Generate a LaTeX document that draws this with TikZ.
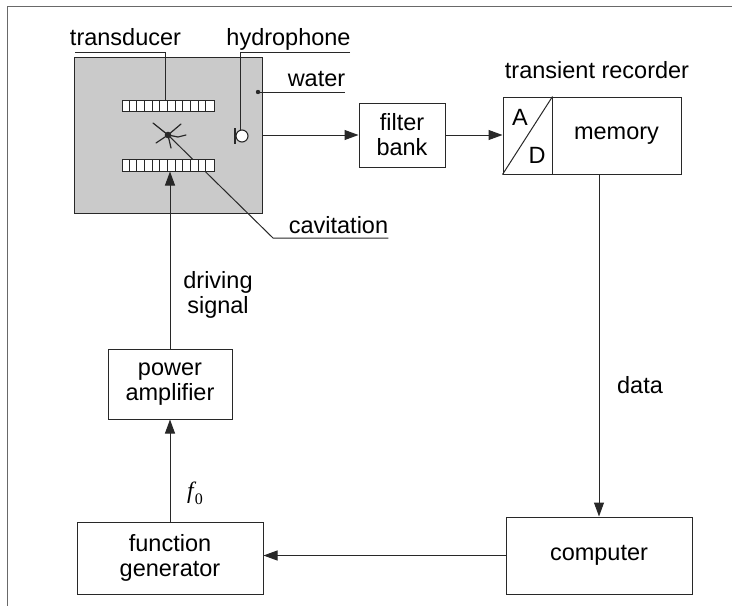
\documentclass[tikz,border=0pt]{standalone}
\usepackage{fontspec}
\setmainfont{Liberation Sans}
\newfontfamily\mathserif{Liberation Serif}
\usetikzlibrary{arrows.meta,calc}
\definecolor{tankgray}{RGB}{202,202,202}
\definecolor{ink}{RGB}{40,40,40}
\tikzset{
  box/.style={draw=ink, line width=1pt, fill=white, align=center, inner sep=0pt},
  lbl/.style={inner sep=0pt, align=center},
  wire/.style={draw=ink, line width=1pt},
  arr/.style={wire, -{Triangle[length=14pt, width=10pt]}},
}
\begin{document}
\begin{tikzpicture}[x=1pt, y=-1pt, font=\fontsize{23.5}{25}\selectfont]
\useasboundingbox (0,0) rectangle (732,606);
% outer frame (top and left edges)
\draw[ink!70, line width=1pt] (732,6) -- (7,6) -- (7,606);

% water tank with the two transducer plates
\node[box, fill=tankgray, minimum width=188pt, minimum height=156pt] (tank) at (168,135) {};
\node[lbl] (txlabel) at (125.5,45) [anchor=base] {transducer};
\node[lbl] (hylabel) at (288.5,45) [anchor=base] {hydrophone};
\node[lbl] (walabel) at (316.5,86) [anchor=base] {water};
\node[lbl] (cvlabel) at (338.5,233) [anchor=base] {cavitation};

% cavitation bubble and its pointer (drawn under the plates)
\coordinate (bubble) at (168,135);
\coordinate (cvknee) at (273,238);
\draw[wire] (bubble) -- (cvknee) -- (cvlabel.base east |- cvknee);

\node[box, minimum width=92pt, minimum height=11pt] (topx) at (168,105.5) {};
\node[box, minimum width=92pt, minimum height=12pt] (botx) at (168,165) {};
\foreach \i in {1,...,11}{
  \draw[ink, line width=0.8pt] ($(topx.west)+(\i*92/12,-5.5)$) -- ++(0,11);
  \draw[ink, line width=0.8pt] ($(botx.west)+(\i*92/12,-6)$) -- ++(0,12);
}

% bubble
\fill[ink] (bubble) circle (3.3pt);
\draw[ink, line width=1.2pt, line cap=round] (bubble) -- (153,123)
  (bubble) -- (181,124)
  (bubble) -- (156,143)
  (bubble) -- (171,148)
  (bubble) -- (178,137) -- (186,135);

% transducer pointer
\draw[wire] (75,52) -- (165,52) -- (165,100);

% hydrophone
\coordinate (hyd) at (242,136);
\draw[wire] (350,52) -- (240,52) -- (240,130);
\draw[ink, line width=1.1pt, fill=white] (hyd) circle (6pt);
\draw[ink, line width=1.2pt] (235,128) -- (235,144);

% water pointer
\coordinate (wdot) at (258,92);
\fill[ink] (wdot) circle (2.2pt);
\draw[wire] (wdot) -- (345,92);

% signal chain
\node[box, minimum width=86pt, minimum height=64pt] (filter) at (402,135) {filter\\bank};
\node[box, minimum width=49pt, minimum height=77pt] (ad) at (527.5,135.5) {};
\node[box, minimum width=129pt, minimum height=77pt] (mem) at (616.5,135.5) {memory};
\draw[wire] (ad.south west) -- (ad.north east);
\node[lbl] (alet) at (520,117) {A};
\node[lbl] (dlet) at (537,155) {D};
\node[lbl] (trlabel) at (597,78) [anchor=base] {transient recorder};

\node[box, minimum width=186pt, minimum height=77pt] (computer) at (599,555.5) {computer};
\node[box, minimum width=186pt, minimum height=72pt] (fgen) at (170,558) {function\\generator};
\node[box, minimum width=124pt, minimum height=70pt] (pamp) at (170,384) {power\\amplifier};

\draw[arr] (tank.east) -- (filter.west);
\draw[arr] (filter.east) -- (filter.east -| ad.west);
\draw[arr] (mem.south -| computer.north) -- (computer.north);
\draw[arr] (computer.west) -- (computer.west -| fgen.east);
\draw[arr] (fgen.north) -- (pamp.south);
\draw[arr] (pamp.north) -- (pamp.north |- botx.south);

\node[lbl] (drv) at (218,295) {driving\\signal};
\node[lbl] (dat) at (640,385) {data};
\node[lbl] (fzero) at (195,493) {\mathserif\itshape f\kern1pt\raisebox{-6pt}{\upshape\fontsize{16}{16}\selectfont 0}};
\end{tikzpicture}
\end{document}
